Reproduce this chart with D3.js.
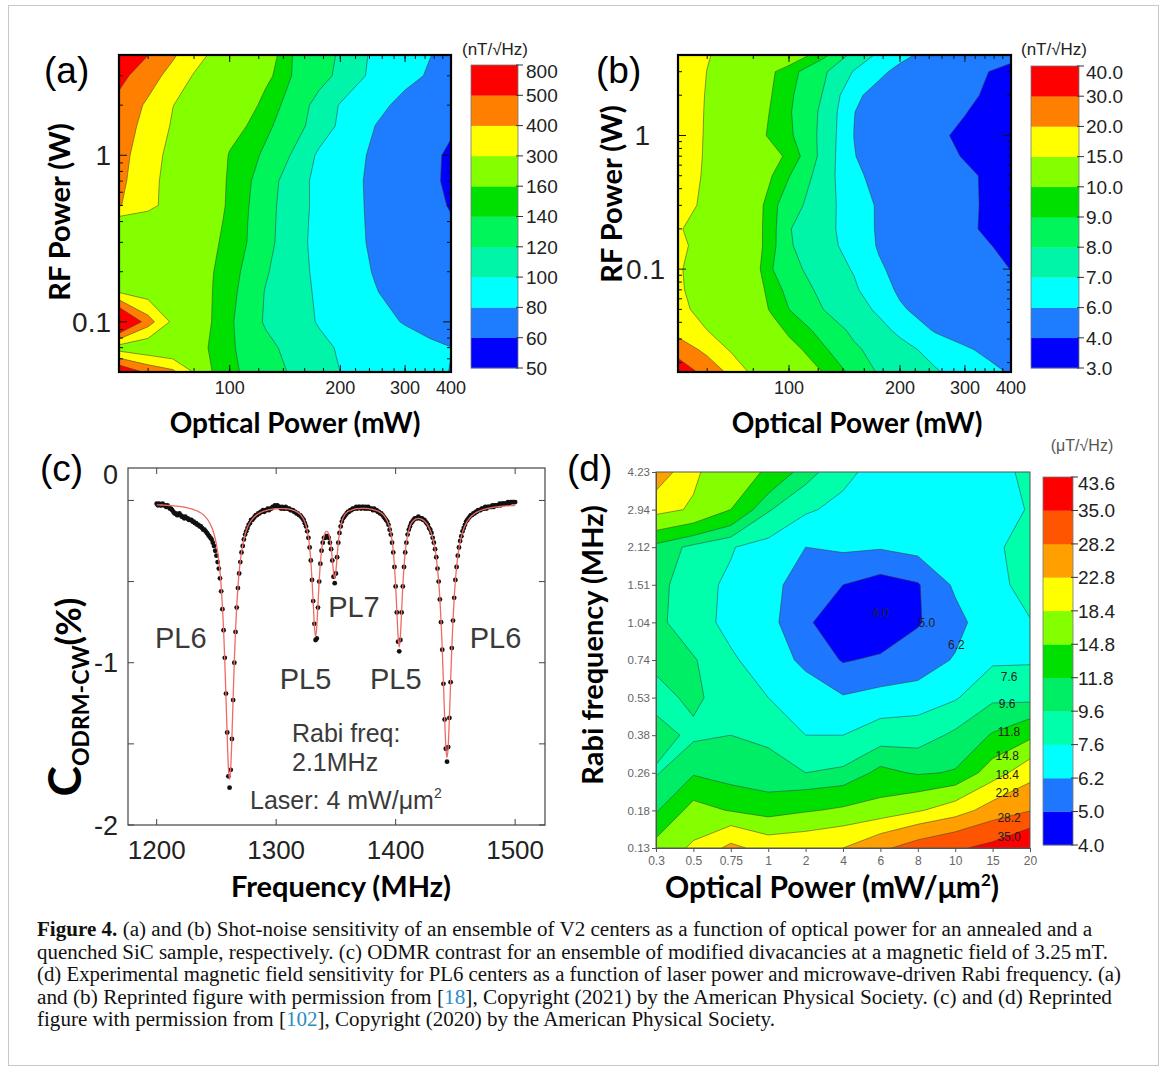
<!DOCTYPE html>
<meta charset="utf-8">
<style>
  body { margin: 0; background: #fff; }
  svg { display: block; background: #fff; }
  text { font-family: Arial, "Liberation Sans", sans-serif; }
  .ttl { font-family: Lato, "Open Sans", sans-serif; font-weight: 700; }
  .cap { font-family: "Liberation Serif", "DejaVu Serif", serif; font-size: 20px; fill: #111; }
</style>
<svg width="1167" height="1073"></svg>
<script src="https://d3js.org/d3.v7.min.js"></script>
<script>
// ---------------- data: panel (a) ----------------
const aPower = [50, 60, 70, 80, 90, 100, 125, 150, 175, 200, 250, 300, 350, 400];   // mW
const aRf = [4, 3, 2, 1.5, 1, 0.7, 0.5, 0.4, 0.3, 0.2, 0.15, 0.1, 0.07, 0.05];    // W, top -> bottom
const aSens = [
  [700, 501, 414, 339, 284, 249, 176, 137.6, 127.7, 117.8, 94.8, 87.1, 80.5, 75],
  [530, 442, 365, 293, 260, 231, 168, 137, 127, 115.6, 93.5, 85.2, 78.2, 72.1],
  [470, 384, 302, 262, 228, 197, 150.3, 131, 113, 98.6, 85.3, 74.4, 68, 63],
  [456, 364, 291, 247, 209, 174, 144.4, 127.4, 110.8, 96.6, 79.5, 72, 66, 62],
  [437, 340, 272.7, 226.8, 186.6, 157.3, 136.6, 117.1, 96.6, 88.6, 76.8, 69.4, 63.1, 57.6],
  [425.6, 328.9, 265.5, 219.6, 179.4, 155, 130.4, 108, 94.9, 87.2, 76, 68.8, 62.7, 57.4],
  [407.6, 324.8, 264.6, 217.5, 176.2, 154.2, 128, 107.4, 95.4, 87.4, 76.3, 69.6, 63.9, 59],
  [250, 255, 236, 201, 170, 153, 127.5, 106.7, 95.1, 87.5, 76.6, 69.8, 64, 61],
  [270, 237, 209.6, 185.5, 164.5, 152.2, 126.9, 106, 94.8, 87.7, 77, 70, 64.2, 61],
  [260, 229, 203, 180.5, 160.7, 147.8, 122.1, 106.4, 96.1, 89.4, 78.6, 71.6, 65.7, 60.6],
  [300, 256, 219, 186.7, 159.4, 145.6, 119.1, 106.7, 97.4, 91.1, 80.7, 73.6, 67.7, 62.6],
  [700, 442, 279.8, 208.2, 156.5, 142.9, 118, 107.1, 98.7, 93.8, 85.5, 78.8, 73.2, 68.2],
  [250, 220, 195, 173, 155.5, 142.8, 125.2, 113.4, 104.1, 98.3, 92.5, 87.8, 83.8, 80.3],
  [600, 475.7, 422.9, 292, 155.2, 144.4, 128.5, 117.1, 107.9, 99.9, 93.5, 88.2, 83.7, 79.5]
];
const aLevels = [50, 60, 80, 100, 120, 140, 160, 300, 400, 500, 800];

// ---------------- data: panel (b) ----------------
const bPower = [50, 60, 70, 80, 90, 100, 125, 150, 175, 200, 250, 300, 350, 400];
const bRf = [4, 3, 2, 1.5, 1, 0.7, 0.5, 0.3, 0.2, 0.15, 0.1, 0.07, 0.05, 0.035, 0.025, 0.017];
const bSens = [
  [17, 15.2, 13.9, 12.9, 11.9, 11.1, 9.18, 7.68, 6.84, 6.27, 5.57, 5.08, 4.66, 4.3],
  [17.1, 14.95, 13.1, 11.55, 10.15, 9.34, 8.1, 6.94, 6.22, 5.73, 5.03, 4.46, 3.98, 3.7],
  [17.0, 14.8, 12.96, 11.38, 9.98, 9.17, 7.89, 6.2, 5.65, 5.32, 4.75, 4.28, 3.8, 3.2],
  [17.0, 14.73, 12.78, 11.1, 9.8, 9.1, 7.73, 6.02, 5.57, 5.2, 4.58, 4.07, 3.4, 3.1],
  [17.1, 14.65, 12.5, 10.7, 9.68, 9.18, 7.66, 5.99, 5.49, 5.06, 4.33, 3.63, 3.3, 3.1],
  [17.0, 14.6, 13.07, 11.74, 10.56, 9.67, 7.56, 6.04, 5.55, 5.15, 4.49, 3.9, 3.4, 3.15],
  [16.9, 14.48, 12.78, 11.32, 10.0, 9.04, 7.42, 6.23, 5.68, 5.33, 4.75, 4.27, 3.77, 3.5],
  [16.4, 14.23, 12.38, 10.8, 9.27, 8.44, 7.32, 6.51, 5.89, 5.5, 4.84, 4.31, 3.77, 3.5],
  [15.3, 13.51, 11.98, 10.66, 9.31, 8.05, 7.28, 6.54, 5.89, 5.49, 4.83, 4.29, 3.74, 3.5],
  [15.7, 13.75, 12.11, 10.7, 9.27, 8.09, 7.33, 6.62, 5.92, 5.57, 4.96, 4.47, 4.05, 3.6],
  [15.3, 13.48, 11.91, 10.57, 9.03, 8.31, 7.49, 6.93, 6.13, 5.73, 5.17, 4.71, 4.32, 3.98],
  [15.4, 13.6, 12.06, 10.73, 9.5, 8.67, 7.7, 7.15, 6.4, 5.85, 5.33, 4.9, 4.54, 4.2],
  [15.8, 13.9, 12.29, 10.91, 9.78, 9.0, 7.96, 7.39, 6.85, 6.12, 5.53, 5.1, 4.74, 4.43],
  [17, 15, 13.33, 11.88, 10.6, 9.73, 8.57, 7.79, 7.29, 6.8, 5.88, 5.46, 5.1, 4.79],
  [25, 17.8, 14.48, 13.0, 11.69, 10.52, 9.1, 8.16, 7.67, 7.31, 6.68, 6.14, 5.75, 5.44],
  [38, 25.6, 17.6, 14.17, 13.0, 11.96, 9.84, 8.68, 7.91, 7.6, 7.08, 6.64, 6.26, 5.9]
];
const bLevels = [3, 4, 6, 7, 8, 9, 10, 15, 20, 30, 40];

const abColors = ["#0000ff", "#1e7cff", "#00ffff", "#00f5a8", "#00f55a", "#00e000", "#84ff00", "#ffff00", "#ff8000", "#ff0000"];

// ---------------- data: panel (c) ODMR ----------------
const odmrStart = 1200;   // MHz, 1 MHz step
const odmrData = [
  -0.02,-0.03,-0.02,-0.03,-0.03,-0.02,-0.03,-0.03,-0.04,-0.03,
  -0.04,-0.05,-0.05,-0.06,-0.07,-0.08,-0.08,-0.09,-0.09,-0.08,
  -0.09,-0.10,-0.10,-0.11,-0.10,-0.11,-0.11,-0.12,-0.12,-0.12,
  -0.13,-0.13,-0.14,-0.14,-0.15,-0.15,-0.16,-0.16,-0.17,-0.18,
  -0.18,-0.19,-0.20,-0.21,-0.22,-0.23,-0.24,-0.26,-0.28,-0.31,
  -0.34,-0.38,-0.42,-0.48,-0.56,-0.67,-0.80,-0.97,-1.19,-1.43,
  -1.70,-1.77,-1.66,-1.47,-1.23,-1.00,-0.81,-0.66,-0.54,-0.45,
  -0.38,-0.32,-0.28,-0.24,-0.21,-0.19,-0.17,-0.15,-0.14,-0.12,
  -0.12,-0.11,-0.10,-0.09,-0.09,-0.08,-0.08,-0.07,-0.07,-0.06,
  -0.07,-0.06,-0.06,-0.05,-0.06,-0.05,-0.05,-0.04,-0.04,-0.03,
  -0.04,-0.03,-0.04,-0.04,-0.05,-0.04,-0.05,-0.05,-0.04,-0.05,
  -0.05,-0.05,-0.06,-0.06,-0.06,-0.07,-0.07,-0.08,-0.08,-0.09,
  -0.09,-0.10,-0.11,-0.12,-0.14,-0.16,-0.19,-0.23,-0.29,-0.37,
  -0.49,-0.62,-0.76,-0.86,-0.85,-0.66,-0.50,-0.39,-0.31,-0.26,
  -0.23,-0.23,-0.22,-0.22,-0.23,-0.26,-0.30,-0.37,-0.47,-0.51,
  -0.45,-0.35,-0.26,-0.20,-0.16,-0.13,-0.11,-0.10,-0.09,-0.08,
  -0.07,-0.07,-0.06,-0.06,-0.05,-0.05,-0.05,-0.04,-0.05,-0.04,
  -0.04,-0.05,-0.04,-0.04,-0.05,-0.04,-0.05,-0.04,-0.05,-0.05,
  -0.05,-0.06,-0.05,-0.06,-0.06,-0.07,-0.07,-0.08,-0.08,-0.09,
  -0.10,-0.11,-0.12,-0.13,-0.15,-0.18,-0.21,-0.26,-0.32,-0.41,
  -0.53,-0.69,-0.87,-0.93,-0.86,-0.69,-0.53,-0.41,-0.32,-0.26,
  -0.21,-0.18,-0.16,-0.14,-0.13,-0.12,-0.11,-0.11,-0.11,-0.10,
  -0.11,-0.11,-0.11,-0.12,-0.12,-0.13,-0.14,-0.15,-0.17,-0.18,
  -0.20,-0.23,-0.26,-0.30,-0.35,-0.42,-0.50,-0.61,-0.75,-0.92,
  -1.13,-1.35,-1.53,-1.61,-1.52,-1.34,-1.12,-0.91,-0.74,-0.60,
  -0.49,-0.41,-0.34,-0.29,-0.25,-0.22,-0.19,-0.17,-0.15,-0.13,
  -0.12,-0.11,-0.10,-0.09,-0.09,-0.08,-0.08,-0.07,-0.07,-0.06,
  -0.06,-0.06,-0.05,-0.05,-0.05,-0.04,-0.05,-0.04,-0.04,-0.04,
  -0.04,-0.03,-0.04,-0.03,-0.03,-0.03,-0.03,-0.02,-0.03,-0.02,
  -0.02,-0.02,-0.02,-0.02,-0.01,-0.02,-0.01,-0.01,-0.01,-0.01,
  -0.01
];
const odmrFit = [
  -0.027,-0.027,-0.027,-0.028,-0.028,-0.028,-0.029,-0.029,-0.030,-0.030,
  -0.031,-0.031,-0.032,-0.033,-0.033,-0.034,-0.035,-0.035,-0.036,-0.037,
  -0.038,-0.039,-0.040,-0.041,-0.043,-0.044,-0.046,-0.048,-0.050,-0.052,
  -0.054,-0.056,-0.059,-0.062,-0.065,-0.069,-0.073,-0.077,-0.082,-0.088,
  -0.095,-0.104,-0.112,-0.122,-0.134,-0.148,-0.164,-0.184,-0.207,-0.236,
  -0.271,-0.316,-0.370,-0.441,-0.532,-0.648,-0.798,-0.986,-1.212,-1.449,
  -1.643,-1.719,-1.644,-1.451,-1.214,-0.989,-0.801,-0.651,-0.535,-0.444,
  -0.374,-0.320,-0.276,-0.241,-0.209,-0.186,-0.166,-0.150,-0.136,-0.125,
  -0.115,-0.107,-0.099,-0.092,-0.087,-0.082,-0.078,-0.074,-0.071,-0.068,
  -0.065,-0.063,-0.061,-0.059,-0.057,-0.056,-0.055,-0.053,-0.052,-0.051,
  -0.050,-0.050,-0.050,-0.050,-0.050,-0.050,-0.050,-0.050,-0.051,-0.051,
  -0.052,-0.053,-0.055,-0.057,-0.059,-0.062,-0.065,-0.069,-0.073,-0.079,
  -0.084,-0.093,-0.104,-0.116,-0.134,-0.156,-0.187,-0.228,-0.288,-0.370,
  -0.486,-0.630,-0.773,-0.840,-0.778,-0.638,-0.497,-0.386,-0.308,-0.255,
  -0.221,-0.200,-0.191,-0.193,-0.207,-0.236,-0.287,-0.362,-0.443,-0.481,
  -0.435,-0.345,-0.261,-0.199,-0.157,-0.129,-0.108,-0.094,-0.083,-0.075,
  -0.068,-0.065,-0.063,-0.060,-0.057,-0.055,-0.053,-0.051,-0.050,-0.050,
  -0.050,-0.049,-0.049,-0.049,-0.049,-0.049,-0.050,-0.051,-0.052,-0.053,
  -0.054,-0.056,-0.058,-0.060,-0.062,-0.065,-0.069,-0.073,-0.078,-0.084,
  -0.091,-0.101,-0.112,-0.126,-0.146,-0.170,-0.203,-0.248,-0.312,-0.401,
  -0.524,-0.681,-0.834,-0.904,-0.833,-0.683,-0.528,-0.407,-0.320,-0.259,
  -0.216,-0.186,-0.161,-0.143,-0.132,-0.124,-0.118,-0.114,-0.112,-0.111,
  -0.112,-0.114,-0.117,-0.121,-0.127,-0.135,-0.143,-0.155,-0.169,-0.186,
  -0.206,-0.232,-0.263,-0.302,-0.352,-0.417,-0.498,-0.605,-0.742,-0.915,
  -1.121,-1.338,-1.516,-1.585,-1.515,-1.337,-1.119,-0.912,-0.739,-0.601,
  -0.493,-0.411,-0.346,-0.295,-0.255,-0.222,-0.196,-0.174,-0.156,-0.141,
  -0.128,-0.118,-0.108,-0.100,-0.093,-0.087,-0.081,-0.076,-0.072,-0.068,
  -0.065,-0.062,-0.059,-0.056,-0.055,-0.053,-0.051,-0.049,-0.048,-0.046,
  -0.045,-0.044,-0.042,-0.041,-0.040,-0.039,-0.038,-0.037,-0.037,-0.036,
  -0.035,-0.035,-0.034,-0.034,-0.033,-0.033,-0.032,-0.032,-0.031,-0.031,
  -0.031
];
const odmrLabels = [
  { t: "PL6", f: 1198.6, v: -0.91 }, { t: "PL7", f: 1343.5, v: -0.72 },
  { t: "PL5", f: 1303, v: -1.16 }, { t: "PL5", f: 1378.5, v: -1.16 },
  { t: "PL6", f: 1462, v: -0.91 }
];

// ---------------- data: panel (d) ----------------
const dPower = ["0.3", "0.5", "0.75", "1", "2", "4", "6", "8", "10", "15", "20"];          // mW/um^2
const dRabi = ["4.23", "2.94", "2.12", "1.51", "1.04", "0.74", "0.53", "0.38", "0.26", "0.18", "0.13"]; // MHz, top -> bottom
const dSens = [
  [26.0, 19.0, 16.0, 14.5, 10.5, 8.0, 7.0, 6.8, 6.9, 7.0, 8.0],
  [19.5, 18.0, 14.8, 9.8, 7.8, 7.2, 6.8, 6.7, 6.8, 7.0, 7.7],
  [11.0, 9.0, 7.7, 6.9, 6.2, 6.4, 6.3, 6.6, 6.9, 7.2, 8.5],
  [10.5, 8.0, 7.4, 6.6, 5.6, 5.0, 4.5, 4.9, 6.4, 7.0, 8.3],
  [10.2, 8.2, 7.2, 6.6, 5.2, 4.2, 4.0, 4.9, 5.8, 7.0, 7.5],
  [10.0, 9.8, 7.8, 6.9, 5.9, 4.9, 5.2, 5.6, 6.3, 7.3, 7.4],
  [9.0, 10.0, 8.6, 7.6, 6.9, 6.3, 6.6, 6.7, 7.4, 9.2, 9.0],
  [10.3, 9.2, 9.6, 9.4, 7.6, 7.6, 8.4, 8.6, 10.0, 12.0, 14.0],
  [9.4, 11.5, 10.5, 10.0, 9.6, 10.0, 12.5, 11.5, 12.0, 16.5, 21.0],
  [11.5, 16.0, 14.6, 13.5, 14.5, 15.3, 16.0, 18.0, 20.5, 25.0, 28.0],
  [16.0, 19.0, 24.0, 21.0, 21.5, 22.8, 27.0, 31.0, 34.0, 37.0, 43.0]
];
const dLevels = [4.0, 5.0, 6.2, 7.6, 9.6, 11.8, 14.8, 18.4, 22.8, 28.2, 35.0, 43.6];
const dColors = ["#0000ff", "#1e78ff", "#00ffff", "#00ffaa", "#00ee66", "#00e000", "#84ff00", "#ffff00", "#ffa000", "#ff5500", "#ff0000"];
// contour labels, in grid index units (column, row from top)
const dLineLabels = [
  { t: "4.0", c: 6.0, r: 3.75 }, { t: "5.0", c: 7.24, r: 4.02 }, { t: "6.2", c: 8.03, r: 4.6 },
  { t: "7.6", c: 9.44, r: 5.45 }, { t: "9.6", c: 9.39, r: 6.16 }, { t: "11.8", c: 9.44, r: 6.92 },
  { t: "14.8", c: 9.39, r: 7.56 }, { t: "18.4", c: 9.39, r: 8.06 }, { t: "22.8", c: 9.39, r: 8.54 },
  { t: "28.2", c: 9.44, r: 9.2 }, { t: "35.0", c: 9.44, r: 9.69 }
];

const captionLines = [
  [["Figure 4.", "b"], [" (a) and (b) Shot-noise sensitivity of an ensemble of V2 centers as a function of optical power for an annealed and a", ""]],
  [["quenched SiC sample, respectively. (c) ODMR contrast for an ensemble of modified divacancies at a magnetic field of 3.25\u2009mT.", ""]],
  [["(d) Experimental magnetic field sensitivity for PL6 centers as a function of laser power and microwave-driven Rabi frequency. (a)", ""]],
  [["and (b) Reprinted figure with permission from [", ""], ["18", "l"], ["], Copyright (2021) by the American Physical Society. (c) and (d) Reprinted", ""]],
  [["figure with permission from [", ""], ["102", "l"], ["], Copyright (2020) by the American Physical Society.", ""]]
];
const captionWidths = [1055, 1071, 1084, 1075, 738];

// ================= drawing =================
const svg = d3.select("svg");

svg.append("rect").attr("x", 8.5).attr("y", 5.5).attr("width", 1150).attr("height", 1060)
  .attr("fill", "none").attr("stroke", "#c8c8c8");

function drawContours(id, vals, xNodes, yNodes, thresholds, colors, box) {
  const ny = vals.length, nx = vals[0].length;
  const sx = d3.scaleLinear().domain(d3.range(nx)).range(xNodes);
  const sy = d3.scaleLinear().domain(d3.range(ny)).range(yNodes);
  const proj = d3.geoTransform({ point: function (x, y) { this.stream.point(sx(x - 0.5), sy(y - 0.5)); } });
  const path = d3.geoPath(proj);
  const cs = d3.contours().size([nx, ny]).thresholds(thresholds)(vals.flat());
  svg.append("clipPath").attr("id", id).append("rect")
    .attr("x", box[0]).attr("y", box[1]).attr("width", box[2] - box[0]).attr("height", box[3] - box[1]);
  const g = svg.append("g").attr("clip-path", "url(#" + id + ")");
  g.selectAll("path").data(cs).join("path")
    .attr("d", path)
    .attr("fill", (d, i) => colors[i])
    .attr("stroke", (d, i) => i ? "#3a3a3a" : "none")
    .attr("stroke-width", 0.7)
    .attr("stroke-opacity", 0.75)
    .attr("stroke-linejoin", "round");
  return { sx, sy };
}

function colorbar(x0, x1, y0, y1, levels, colors, fmt, labelX, fontSize) {
  const n = colors.length;
  const s = d3.scaleLinear().domain([0, n]).range([y1, y0]);
  const g = svg.append("g");
  g.selectAll("rect").data(colors).join("rect")
    .attr("x", x0).attr("width", x1 - x0)
    .attr("y", (d, i) => s(i + 1)).attr("height", (d, i) => s(i) - s(i + 1) + 0.3)
    .attr("fill", d => d);
  g.append("rect").attr("x", x0).attr("y", y0).attr("width", x1 - x0).attr("height", y1 - y0)
    .attr("fill", "none").attr("stroke", "#777").attr("stroke-width", 0.8);
  g.selectAll("line").data(levels).join("line")
    .attr("x1", x1 - 2).attr("x2", x1 + 5)
    .attr("y1", (d, i) => s(i)).attr("y2", (d, i) => s(i))
    .attr("stroke", "#333").attr("stroke-width", 1);
  g.selectAll("text").data(levels).join("text")
    .attr("x", labelX).attr("y", (d, i) => Math.max(s(i), y0 + 6))
    .attr("dy", "0.36em").attr("font-size", fontSize).attr("fill", "#222")
    .text(fmt);
}

// ---------- log frame for (a) & (b) ----------
function logFrame(x, y, xMinor, xMajor, yMinor, yMajor, box, yLabelX) {
  const g = svg.append("g");
  const [l, t, r, b] = box;
  const tick = (vals, len, horiz) => {
    vals.forEach(v => {
      if (horiz) {
        const px = x(v);
        g.append("line").attr("x1", px).attr("x2", px).attr("y1", b).attr("y2", b - len).attr("stroke", "#111");
        g.append("line").attr("x1", px).attr("x2", px).attr("y1", t).attr("y2", t + len).attr("stroke", "#111");
      } else {
        const py = y(v);
        g.append("line").attr("y1", py).attr("y2", py).attr("x1", l).attr("x2", l + len).attr("stroke", "#111");
        g.append("line").attr("y1", py).attr("y2", py).attr("x1", r).attr("x2", r - len).attr("stroke", "#111");
      }
    });
  };
  tick(xMinor, 4, true); tick(xMajor, 7, true);
  tick(yMinor, 4, false); tick(yMajor, 8, false);
  g.append("rect").attr("x", l).attr("y", t).attr("width", r - l).attr("height", b - t)
    .attr("fill", "none").attr("stroke", "#000").attr("stroke-width", 2.2);
  g.selectAll(".xl").data(xMajor).join("text").attr("class", "xl")
    .attr("x", d => x(d)).attr("y", b + 22).attr("text-anchor", "middle")
    .attr("font-size", 18).attr("fill", "#222").text(d => d);
  g.selectAll(".yl").data(yMajor).join("text").attr("class", "yl")
    .attr("x", (d, i) => yLabelX[i]).attr("y", d => y(d)).attr("dy", "0.35em").attr("text-anchor", "end")
    .attr("font-size", 28).attr("fill", "#222").text(d => d);
}

const xMinorAB = d3.range(60, 401, 20);
const xMajorAB = [100, 200, 300, 400];

// ================= panel (a) =================
const xa = d3.scaleLog().domain([50, 400]).range([119, 451]);
const ya = d3.scaleLog().domain([0.05, 4]).range([372, 55]);
drawContours("clipA", aSens, aPower.map(xa), aRf.map(ya), [0].concat(aLevels.slice(1, -1)), abColors, [119, 55, 451, 372]);
logFrame(xa, ya, xMinorAB, xMajorAB,
  [0.06, 0.07, 0.08, 0.09, 0.2, 0.3, 0.4, 0.5, 0.6, 0.7, 0.8, 0.9, 2, 3, 4], [0.1, 1],
  [119, 55, 451, 372], [111, 111]);
colorbar(471, 518, 65, 368, aLevels, abColors, d => d, 526, 19);
svg.append("text").attr("x", 495).attr("y", 55).attr("text-anchor", "middle").attr("font-size", 17).attr("fill", "#222").text("(nT/\u221AHz)");
svg.append("text").attr("x", 44).attr("y", 83).attr("font-size", 37).text("(a)");
svg.append("text").attr("class", "ttl").attr("x", 295).attr("y", 433).attr("text-anchor", "middle").attr("font-size", 28).text("Optical Power (mW)");
svg.append("text").attr("class", "ttl").attr("transform", "translate(70,212) rotate(-90)").attr("text-anchor", "middle").attr("font-size", 29).text("RF Power (W)");

// ================= panel (b) =================
const xb = d3.scaleLog().domain([50, 400]).range([678, 1011]);
const yb = d3.scaleLog().domain([0.017, 4]).range([372, 55]);
drawContours("clipB", bSens, bPower.map(xb), bRf.map(yb), [0].concat(bLevels.slice(1, -1)), abColors, [678, 55, 1011, 372]);
logFrame(xb, yb, xMinorAB, xMajorAB,
  [0.02, 0.03, 0.04, 0.05, 0.06, 0.07, 0.08, 0.09, 0.2, 0.3, 0.4, 0.5, 0.6, 0.7, 0.8, 0.9, 2, 3, 4], [0.1, 1],
  [678, 55, 1011, 372], [665, 650]);
colorbar(1031, 1079, 66, 368, bLevels, abColors, d => d.toFixed(1), 1086, 19);
svg.append("text").attr("x", 1054).attr("y", 55).attr("text-anchor", "middle").attr("font-size", 17).attr("fill", "#222").text("(nT/\u221AHz)");
svg.append("text").attr("x", 596).attr("y", 83).attr("font-size", 37).text("(b)");
svg.append("text").attr("class", "ttl").attr("x", 857).attr("y", 433).attr("text-anchor", "middle").attr("font-size", 28).text("Optical Power (mW)");
svg.append("text").attr("class", "ttl").attr("transform", "translate(622,194) rotate(-90)").attr("text-anchor", "middle").attr("font-size", 29).text("RF Power (W)");

// ================= panel (c) =================
const xc = d3.scaleLinear().domain([1176, 1525]).range([128, 545]);
const yc = d3.scaleLinear().domain([-2, 0.2]).range([825, 468]);
const gc = svg.append("g");
gc.append("rect").attr("x", 128).attr("y", 468).attr("width", 417).attr("height", 357)
  .attr("fill", "none").attr("stroke", "#444").attr("stroke-width", 1.2);
[1200, 1300, 1400, 1500].forEach(v => {
  gc.append("line").attr("x1", xc(v)).attr("x2", xc(v)).attr("y1", 825).attr("y2", 819).attr("stroke", "#444");
  gc.append("line").attr("x1", xc(v)).attr("x2", xc(v)).attr("y1", 468).attr("y2", 474).attr("stroke", "#444");
  gc.append("text").attr("x", xc(v)).attr("y", 859).attr("text-anchor", "middle").attr("font-size", 26).attr("fill", "#222").text(v);
});
[-2, -1.5, -1, -0.5, 0].forEach(v => {
  gc.append("line").attr("x1", 545).attr("x2", 539).attr("y1", yc(v)).attr("y2", yc(v)).attr("stroke", "#444");
  gc.append("line").attr("x1", 128).attr("x2", 134).attr("y1", yc(v)).attr("y2", yc(v)).attr("stroke", "#444");
});
[{ v: -2, t: "-2" }, { v: -1, t: "-1" }, { v: 0.16, t: "0" }].forEach(d => {
  gc.append("text").attr("x", 118).attr("y", yc(d.v)).attr("dy", "0.36em").attr("text-anchor", "end")
    .attr("font-size", 27).attr("fill", "#222").text(d.t);
});
const odmrFreq = d3.range(odmrData.length).map(i => odmrStart + i);
gc.selectAll("circle").data(odmrData).join("circle")
  .attr("cx", (d, i) => xc(odmrFreq[i])).attr("cy", d => yc(d)).attr("r", 2.4).attr("fill", "#111");
gc.append("path").datum(odmrFit)
  .attr("d", d3.line().x((d, i) => xc(odmrFreq[i])).y(d => yc(d)).curve(d3.curveMonotoneX))
  .attr("fill", "none").attr("stroke", "#ee6a64").attr("stroke-width", 1.3);
odmrLabels.forEach(d => {
  gc.append("text").attr("x", xc(d.f)).attr("y", yc(d.v)).attr("font-size", 29).attr("fill", "#3a3a3a").text(d.t);
});
gc.append("text").attr("x", 292).attr("y", 742).attr("font-size", 25).attr("fill", "#3a3a3a").text("Rabi freq:");
gc.append("text").attr("x", 292).attr("y", 771).attr("font-size", 25).attr("fill", "#3a3a3a").text("2.1MHz");
gc.append("text").attr("x", 250).attr("y", 809).attr("font-size", 25).attr("fill", "#3a3a3a")
  .text("Laser: 4 mW/\u03BCm").append("tspan").attr("font-size", 14).attr("dy", -11).text("2");
svg.append("text").attr("x", 40).attr("y", 481).attr("font-size", 37).text("(c)");
svg.append("text").attr("class", "ttl").attr("x", 341).attr("y", 897).attr("text-anchor", "middle").attr("font-size", 29).text("Frequency (MHz)");
const cy = svg.append("text").attr("class", "ttl").attr("transform", "translate(81,697) rotate(-90)").attr("text-anchor", "middle");
cy.append("tspan").attr("font-size", 46).text("C");
cy.append("tspan").attr("font-size", 23).attr("dy", 8).text("ODRM-CW");
cy.append("tspan").attr("font-size", 35).attr("dy", -8).text("(%)");

// ================= panel (d) =================
const xd = d3.scalePoint().domain(dPower).range([656, 1030]);
const yd = d3.scalePoint().domain(dRabi).range([472, 848]);
const dCont = drawContours("clipD", dSens, dPower.map(xd), dRabi.map(yd), [0].concat(dLevels.slice(1, -1)), dColors, [656, 472, 1030, 848]);
const gd = svg.append("g");
dLineLabels.forEach(d => {
  gd.append("text").attr("x", dCont.sx(d.c)).attr("y", dCont.sy(d.r)).attr("dy", "0.35em")
    .attr("text-anchor", "middle").attr("font-size", 12).attr("fill", "#222").text(d.t);
});
gd.append("rect").attr("x", 656).attr("y", 472).attr("width", 374).attr("height", 376)
  .attr("fill", "none").attr("stroke", "#555").attr("stroke-width", 1);
gd.append("g").attr("transform", "translate(0,848)")
  .call(d3.axisBottom(xd).tickSize(4).tickPadding(4))
  .call(g => g.select(".domain").attr("stroke", "#555"))
  .call(g => g.selectAll("line").attr("stroke", "#555"))
  .call(g => g.selectAll("text").attr("font-size", 12).attr("fill", "#666").attr("font-family", "Arial"));
gd.append("g").attr("transform", "translate(656,0)")
  .call(d3.axisLeft(yd).tickSize(4).tickPadding(2))
  .call(g => g.select(".domain").attr("stroke", "#555"))
  .call(g => g.selectAll("line").attr("stroke", "#555"))
  .call(g => g.selectAll("text").attr("font-size", 11.5).attr("fill", "#666").attr("font-family", "Arial"));
colorbar(1043, 1073, 477, 845, dLevels, dColors, d => d.toFixed(1), 1078, 19);
svg.append("text").attr("x", 1082).attr("y", 451).attr("text-anchor", "middle").attr("font-size", 16).attr("fill", "#555").text("(\u03BCT/\u221AHz)");
svg.append("text").attr("x", 567).attr("y", 481).attr("font-size", 37).text("(d)");
const dx = svg.append("text").attr("class", "ttl").attr("x", 832).attr("y", 898).attr("text-anchor", "middle").attr("font-size", 30);
dx.append("tspan").text("Optical Power (mW/\u03BCm");
dx.append("tspan").attr("font-size", 17).attr("dy", -12).text("2");
dx.append("tspan").attr("dy", 12).text(")");
svg.append("text").attr("class", "ttl").attr("transform", "translate(603,645) rotate(-90)").attr("text-anchor", "middle").attr("font-size", 29).text("Rabi frequency (MHz)");

// ================= caption =================
const capY = [936, 959, 981, 1004, 1026];
captionLines.forEach((line, i) => {
  const t = svg.append("text").attr("class", "cap").attr("x", 37).attr("y", capY[i])
    .attr("textLength", captionWidths[i]).attr("lengthAdjust", "spacingAndGlyphs");
  line.forEach(([s, k]) => {
    const sp = t.append("tspan").text(s);
    if (k === "b") sp.attr("font-weight", 700);
    if (k === "l") sp.attr("fill", "#2a8cc4");
  });
});
</script>
